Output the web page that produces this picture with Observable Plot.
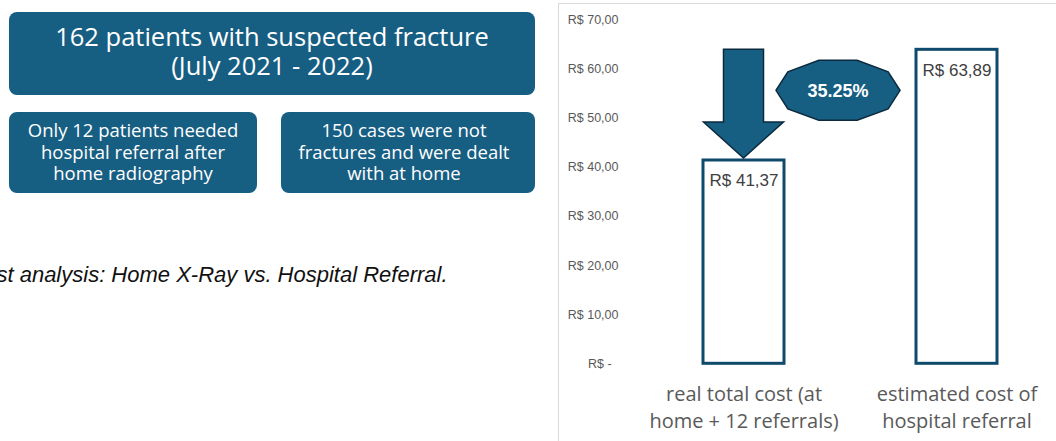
<!DOCTYPE html>
<html>
<head>
<meta charset="utf-8">
<script src="https://cdn.jsdelivr.net/npm/d3@7"></script>
<script src="https://cdn.jsdelivr.net/npm/@observablehq/plot@0.6"></script>
<style>
  html, body { margin: 0; padding: 0; background: #ffffff; }
  #page { position: relative; width: 1056px; height: 441px; overflow: hidden; background: #fff; }
  .box { position: absolute; background: #175e83; color: #ffffff; border-radius: 8px;
         font-family: "Open Sans", sans-serif; font-weight: 500; text-align: center;
         display: flex; flex-direction: column; justify-content: center; box-sizing: border-box; }
  #bigbox { left: 9px; top: 12px; width: 526px; height: 83px; font-size: 25.5px; line-height: 29px; padding-bottom: 5px; }
  #box1 { left: 9px; top: 112px; width: 248px; height: 81px; font-size: 18.5px; line-height: 21.5px; padding-bottom: 2px; }
  #box2 { left: 281px; top: 112px; width: 254px; height: 81px; font-size: 18.5px; line-height: 21.5px; padding-right: 8px; padding-bottom: 2px; }
  #caption { position: absolute; left: -31.7px; top: 264.4px; font-family: "Liberation Sans", Arial, sans-serif;
             font-style: italic; font-size: 22px; line-height: 22px; color: #111; white-space: nowrap; }
  #chartframe { position: absolute; left: 558px; top: 3px; width: 520px; height: 460px;
                border: 1px solid #d9d9d9; box-sizing: border-box; }
  #chart { position: absolute; left: 559px; top: 4px; }
</style>
</head>
<body>
<div id="page">
  <div class="box" id="bigbox"></div>
  <div class="box" id="box1"></div>
  <div class="box" id="box2"></div>
  <div id="caption"></div>
  <div id="chartframe"></div>
  <div id="chart"></div>
</div>
<script>
// ---------- data ----------
const infoTitle = ["162 patients with suspected fracture", "(July 2021 - 2022)"];
const infoReferral = ["Only 12 patients needed", "hospital referral after", "home radiography"];
const infoHome = ["150 cases were not", "fractures and were dealt", "with at home"];
const captionText = "Cost analysis: Home X-Ray vs. Hospital Referral.";

const categories = ["real total cost (at home + 12 referrals)", "estimated cost of hospital referral"];
const categoryLines = ["real total cost (at\nhome + 12 referrals)", "estimated cost of\nhospital referral"];
const costs = [41.37, 63.89];
const costLabels = ["R$ 41,37", "R$ 63,89"];
const yTicks = [0, 10, 20, 30, 40, 50, 60, 70];
const yTickLabels = ["R$ -\u00a0\u00a0", "R$ 10,00", "R$ 20,00", "R$ 30,00", "R$ 40,00", "R$ 50,00", "R$ 60,00", "R$ 70,00"];
const savingLabel = "35.25%";

// ---------- infographic text ----------
function fill(id, lines) {
  const el = document.getElementById(id);
  lines.forEach(t => { const d = document.createElement("div"); d.textContent = t; el.appendChild(d); });
}
fill("bigbox", infoTitle);
fill("box1", infoReferral);
fill("box2", infoHome);
document.getElementById("caption").textContent = captionText;

// ---------- chart ----------
const rows = categories.map((c, i) => ({cat: c, cost: costs[i], label: costLabels[i]}));

const accent = "#175e83";
const outline = "#0c2a3d";

function annotations(index, scales) {
  const sx = scales.x, sy = scales.y;
  const bw = typeof sx.bandwidth === "function" ? sx.bandwidth() : sx.bandwidth;
  const c0 = sx(categories[0]) + bw / 2;
  const c1 = sx(categories[1]) + bw / 2;
  const yTop = sy(costs[1]);
  const yTip = sy(costs[0]) - 2;
  const g = d3.create("svg:g");
  const headH = 36, shaft = 20, head = 40;
  const pts = [
    [c0 - shaft, yTop], [c0 + shaft, yTop], [c0 + shaft, yTip - headH], [c0 + head, yTip - headH],
    [c0, yTip], [c0 - head, yTip - headH], [c0 - shaft, yTip - headH]
  ];
  g.append("polygon").attr("points", pts.map(p => p.join(",")).join(" "))
    .attr("fill", accent).attr("stroke", outline).attr("stroke-width", 1.5);
  const cx = (c0 + c1) / 2 - 12, cy = yTop + 41, rx = 62, ry = 31.5;
  const dec = d3.range(10).map(k => {
    const a = k * Math.PI / 5;
    return [cx + rx * Math.cos(a), cy + ry * Math.sin(a)];
  });
  g.append("polygon").attr("points", dec.map(p => p.join(",")).join(" "))
    .attr("fill", accent).attr("stroke", outline).attr("stroke-width", 1.5);
  g.append("text").attr("x", cx).attr("y", cy).attr("dy", "0.35em")
    .attr("text-anchor", "middle").attr("fill", "#ffffff")
    .attr("font-family", "Liberation Sans, Arial, sans-serif").attr("font-weight", "bold")
    .attr("font-size", 18).text(savingLabel);
  return g.node();
}

const chart = Plot.plot({
  width: 497,
  height: 437,
  marginTop: 15.3,
  marginBottom: 77.7,
  marginLeft: 62,
  marginRight: 0,
  style: {background: "transparent", color: "#595959", fontFamily: "Liberation Sans, Arial, sans-serif", overflow: "visible"},
  x: {domain: categories, range: [79.5, 502.1], paddingInner: 0.6206, paddingOuter: 0.3, label: null},
  y: {domain: [0, 70], label: null},
  marks: [
    Plot.axisY({ticks: yTicks, tickFormat: d => yTickLabels[yTicks.indexOf(d)], tickSize: 0, tickPadding: 3,
                fontSize: 12.5, label: null}),
    Plot.axisX({tickSize: 0, tickPadding: 18, fontSize: 20, fontFamily: "Open Sans, sans-serif", lineHeight: 1.36,
                tickFormat: d => categoryLines[categories.indexOf(d)], label: null}),
    Plot.barY(rows, {x: "cat", y: "cost", fill: "#ffffff", stroke: "#0f4a6c", strokeWidth: 3}),
    Plot.text(rows, {x: "cat", y: "cost", text: "label", dy: 20.5, fontSize: 17, fill: "#404040",
                     fontFamily: "Liberation Sans, Arial, sans-serif"}),
    annotations
  ]
});
document.getElementById("chart").appendChild(chart);
</script>
</body>
</html>
